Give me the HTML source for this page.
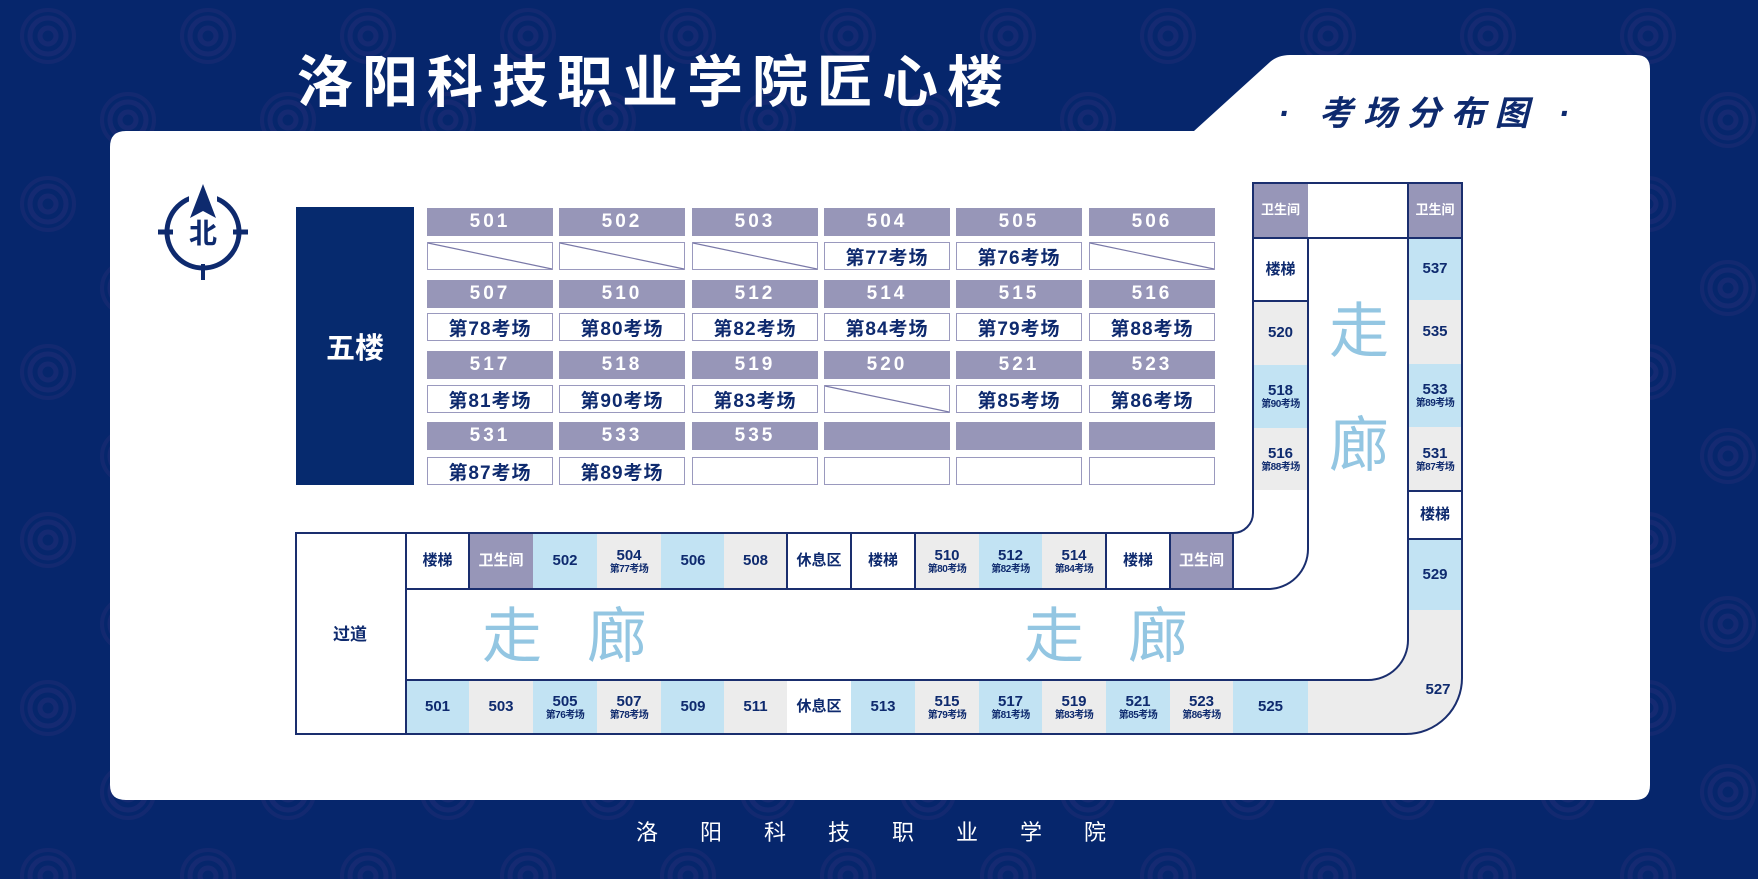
<!DOCTYPE html>
<html><head><meta charset="utf-8"><style>
*{margin:0;padding:0;box-sizing:border-box}
body{width:1758px;height:879px;overflow:hidden;background:#06266c;font-family:"Liberation Sans","Noto Sans CJK SC",sans-serif;position:relative}
.a{position:absolute}
.c{position:absolute;display:flex;flex-direction:column;align-items:center;justify-content:center;color:#0e2a6e;font-weight:bold;font-size:15px;line-height:1.15;text-align:center}
.c small{font-size:10px;display:block;letter-spacing:-0.5px}
.h{position:absolute;background:#9796b8;color:#fff;font-weight:bold;font-size:19px;letter-spacing:3px;display:flex;align-items:center;justify-content:center;height:28px;width:126px}
.b{position:absolute;background:#fff;border:1.5px solid #9a99be;color:#0e2a6e;font-weight:bold;font-size:19px;letter-spacing:1px;display:flex;align-items:center;justify-content:center;height:28px;width:126px;overflow:hidden}
.bl{background:#c2e3f3}.gr{background:#ececec}.lv{background:#9796b8;color:#fff!important}.wh{background:#fff}
.z{position:absolute;color:#93c6e2;font-size:60px;line-height:1;font-weight:normal}
</style></head><body>
<svg class="a" style="left:0;top:0" width="1758" height="879">
<defs><pattern id="p" width="160" height="168" patternUnits="userSpaceOnUse">
<g fill="none" stroke="#152a72" stroke-width="5"><circle cx="48" cy="36" r="18"/><circle cx="48" cy="36" r="8"/><circle cx="128" cy="120" r="18"/><circle cx="128" cy="120" r="8"/></g>
<g fill="none" stroke="#132970" stroke-width="4"><circle cx="48" cy="36" r="26"/><circle cx="128" cy="120" r="26"/></g></pattern></defs>
<rect width="1758" height="879" fill="url(#p)"/>
<path d="M110,147 Q110,131 126,131 L1194,131 L1270,62 Q1278,55 1290,55 L1636,55 Q1650,55 1650,69 L1650,785 Q1650,800 1635,800 L126,800 Q110,800 110,785 Z" fill="#fff"/>
</svg>
<div class="a" style="left:297px;top:50px;color:#fff;font-size:56px;font-weight:bold;letter-spacing:9px;line-height:66px;white-space:nowrap">洛阳科技职业学院匠心楼</div>
<div class="a" style="left:1278px;top:92px;color:#0e2a6e;font-size:34px;font-weight:bold;font-style:italic;letter-spacing:10px;line-height:44px;white-space:nowrap">· 考场分布图 ·</div>
<div class="a" style="left:636px;top:818px;color:#fff;font-size:22px;letter-spacing:42px;line-height:30px;white-space:nowrap">洛阳科技职业学院</div>
<svg class="a" style="left:155px;top:180px" width="100" height="105">
<circle cx="48" cy="52" r="36" fill="none" stroke="#0e2a6e" stroke-width="5"/>
<rect x="34" y="8" width="28" height="24" fill="#fff"/>
<path d="M48,4 L61,38 L48,31 L35,38 Z" fill="#0e2a6e"/>
<line x1="3" y1="52" x2="18" y2="52" stroke="#0e2a6e" stroke-width="5"/><line x1="78" y1="52" x2="93" y2="52" stroke="#0e2a6e" stroke-width="5"/>
<line x1="48" y1="84" x2="48" y2="100" stroke="#0e2a6e" stroke-width="4"/>
<text x="48" y="63" text-anchor="middle" font-size="28" font-weight="bold" fill="#0e2a6e" font-family="Liberation Sans,Noto Sans CJK SC,sans-serif">北</text>
</svg>
<div class="a" style="left:296px;top:207px;width:118px;height:278px;background:#062a6e;color:#fff;font-size:29px;font-weight:bold;display:flex;align-items:center;justify-content:center">五楼</div>

<div class="h" style="left:427px;top:208px">501</div><div class="h" style="left:559px;top:208px">502</div><div class="h" style="left:692px;top:208px">503</div><div class="h" style="left:824px;top:208px">504</div><div class="h" style="left:956px;top:208px">505</div><div class="h" style="left:1089px;top:208px">506</div>
<div class="b" style="left:427px;top:242px"></div><div class="b" style="left:559px;top:242px"></div><div class="b" style="left:692px;top:242px"></div><div class="b" style="left:824px;top:242px">第77考场</div><div class="b" style="left:956px;top:242px">第76考场</div><div class="b" style="left:1089px;top:242px"></div>
<div class="h" style="left:427px;top:280px">507</div><div class="h" style="left:559px;top:280px">510</div><div class="h" style="left:692px;top:280px">512</div><div class="h" style="left:824px;top:280px">514</div><div class="h" style="left:956px;top:280px">515</div><div class="h" style="left:1089px;top:280px">516</div>
<div class="b" style="left:427px;top:313px">第78考场</div><div class="b" style="left:559px;top:313px">第80考场</div><div class="b" style="left:692px;top:313px">第82考场</div><div class="b" style="left:824px;top:313px">第84考场</div><div class="b" style="left:956px;top:313px">第79考场</div><div class="b" style="left:1089px;top:313px">第88考场</div>
<div class="h" style="left:427px;top:351px">517</div><div class="h" style="left:559px;top:351px">518</div><div class="h" style="left:692px;top:351px">519</div><div class="h" style="left:824px;top:351px">520</div><div class="h" style="left:956px;top:351px">521</div><div class="h" style="left:1089px;top:351px">523</div>
<div class="b" style="left:427px;top:385px">第81考场</div><div class="b" style="left:559px;top:385px">第90考场</div><div class="b" style="left:692px;top:385px">第83考场</div><div class="b" style="left:824px;top:385px"></div><div class="b" style="left:956px;top:385px">第85考场</div><div class="b" style="left:1089px;top:385px">第86考场</div>
<div class="h" style="left:427px;top:422px">531</div><div class="h" style="left:559px;top:422px">533</div><div class="h" style="left:692px;top:422px">535</div><div class="h" style="left:824px;top:422px"></div><div class="h" style="left:956px;top:422px"></div><div class="h" style="left:1089px;top:422px"></div>
<div class="b" style="left:427px;top:457px">第87考场</div><div class="b" style="left:559px;top:457px">第89考场</div><div class="b" style="left:692px;top:457px"></div><div class="b" style="left:824px;top:457px"></div><div class="b" style="left:956px;top:457px"></div><div class="b" style="left:1089px;top:457px"></div>
<svg class="a" style="left:0;top:0" width="1758" height="879">
<g stroke="#7a79a8" stroke-width="1.2"><line x1="428" y1="243" x2="552" y2="269"/><line x1="560" y1="243" x2="684" y2="269"/><line x1="693" y1="243" x2="817" y2="269"/><line x1="1090" y1="243" x2="1214" y2="269"/><line x1="825" y1="386" x2="949" y2="412"/></g>
</svg>

<div class="c wh" style="left:406px;top:533px;width:63px;height:56px">楼梯</div>
<div class="c lv" style="left:469px;top:533px;width:64px;height:56px">卫生间</div>
<div class="c bl" style="left:533px;top:533px;width:64px;height:56px">502</div>
<div class="c gr" style="left:597px;top:533px;width:64px;height:56px">504<small>第77考场</small></div>
<div class="c bl" style="left:661px;top:533px;width:64px;height:56px">506</div>
<div class="c gr" style="left:724px;top:533px;width:63px;height:56px">508</div>
<div class="c wh" style="left:787px;top:533px;width:64px;height:56px">休息区</div>
<div class="c wh" style="left:851px;top:533px;width:64px;height:56px">楼梯</div>
<div class="c gr" style="left:915px;top:533px;width:64px;height:56px">510<small>第80考场</small></div>
<div class="c bl" style="left:979px;top:533px;width:63px;height:56px">512<small>第82考场</small></div>
<div class="c gr" style="left:1042px;top:533px;width:64px;height:56px">514<small>第84考场</small></div>
<div class="c wh" style="left:1106px;top:533px;width:64px;height:56px">楼梯</div>
<div class="c lv" style="left:1170px;top:533px;width:63px;height:56px">卫生间</div>
<div class="c bl" style="left:406px;top:680px;width:63px;height:54px">501</div>
<div class="c gr" style="left:469px;top:680px;width:64px;height:54px">503</div>
<div class="c bl" style="left:533px;top:680px;width:64px;height:54px">505<small>第76考场</small></div>
<div class="c gr" style="left:597px;top:680px;width:64px;height:54px">507<small>第78考场</small></div>
<div class="c bl" style="left:661px;top:680px;width:64px;height:54px">509</div>
<div class="c gr" style="left:724px;top:680px;width:63px;height:54px">511</div>
<div class="c wh" style="left:787px;top:680px;width:64px;height:54px">休息区</div>
<div class="c bl" style="left:851px;top:680px;width:64px;height:54px">513</div>
<div class="c gr" style="left:915px;top:680px;width:64px;height:54px">515<small>第79考场</small></div>
<div class="c bl" style="left:979px;top:680px;width:63px;height:54px">517<small>第81考场</small></div>
<div class="c gr" style="left:1042px;top:680px;width:64px;height:54px">519<small>第83考场</small></div>
<div class="c bl" style="left:1106px;top:680px;width:64px;height:54px">521<small>第85考场</small></div>
<div class="c gr" style="left:1170px;top:680px;width:63px;height:54px">523<small>第86考场</small></div>
<div class="c bl" style="left:1233px;top:680px;width:75px;height:54px">525</div>
<div class="c lv" style="left:1253px;top:183px;width:55px;height:55px;font-size:13px">卫生间</div>
<div class="c wh" style="left:1253px;top:238px;width:55px;height:63px">楼梯</div>
<div class="c gr" style="left:1253px;top:301px;width:55px;height:64px">520</div>
<div class="c bl" style="left:1253px;top:365px;width:55px;height:63px">518<small>第90考场</small></div>
<div class="c gr" style="left:1253px;top:428px;width:55px;height:62px">516<small>第88考场</small></div>
<div class="c lv" style="left:1408px;top:183px;width:54px;height:55px;font-size:13px">卫生间</div>
<div class="c bl" style="left:1408px;top:238px;width:54px;height:62px">537</div>
<div class="c gr" style="left:1408px;top:300px;width:54px;height:64px">535</div>
<div class="c bl" style="left:1408px;top:364px;width:54px;height:63px">533<small>第89考场</small></div>
<div class="c gr" style="left:1408px;top:427px;width:54px;height:64px">531<small>第87考场</small></div>
<div class="c wh" style="left:1408px;top:491px;width:54px;height:48px">楼梯</div>
<div class="c bl" style="left:1408px;top:539px;width:54px;height:71px">529</div>

<svg class="a" style="left:0;top:0" width="1758" height="879">
<path d="M1308,680 L1368,680 A40,40 0 0 0 1408,640 L1408,610 L1462,610 L1462,678 A56,56 0 0 1 1406,734 L1308,734 Z" fill="#ececec"/>
<g fill="none" stroke="#1a2e6e" stroke-width="2">
<path d="M296,533 L1233,533 A20,20 0 0 0 1253,513 L1253,183 L1462,183 L1462,678 A56,56 0 0 1 1406,734 L296,734 Z"/>
<line x1="406" y1="533" x2="406" y2="734"/>
<path d="M406,589 L1268,589 A40,40 0 0 0 1308,549 L1308,238"/>
<path d="M406,680 L1368,680 A40,40 0 0 0 1408,640 L1408,183"/>
<line x1="1253" y1="238" x2="1462" y2="238"/>
<line x1="1253" y1="301" x2="1308" y2="301"/>
<line x1="1408" y1="491" x2="1462" y2="491"/><line x1="1408" y1="539" x2="1462" y2="539"/>
<line x1="469" y1="533" x2="469" y2="589"/><line x1="787" y1="533" x2="787" y2="589"/><line x1="851" y1="533" x2="851" y2="589"/><line x1="915" y1="533" x2="915" y2="589"/>
<line x1="1106" y1="533" x2="1106" y2="589"/><line x1="1170" y1="533" x2="1170" y2="589"/><line x1="1233" y1="533" x2="1233" y2="589"/>
</g></svg>
<div class="c" style="left:1408px;top:678px;width:60px;height:24px">527</div>
<div class="c" style="left:320px;top:620px;width:60px;height:30px;font-size:17px">过道</div>
<div class="z" style="left:1329px;top:302px">走</div><div class="z" style="left:1329px;top:416px">廊</div>
<div class="z" style="left:482px;top:607px">走</div><div class="z" style="left:587px;top:607px">廊</div>
<div class="z" style="left:1024px;top:607px">走</div><div class="z" style="left:1128px;top:607px">廊</div>
</body></html>
